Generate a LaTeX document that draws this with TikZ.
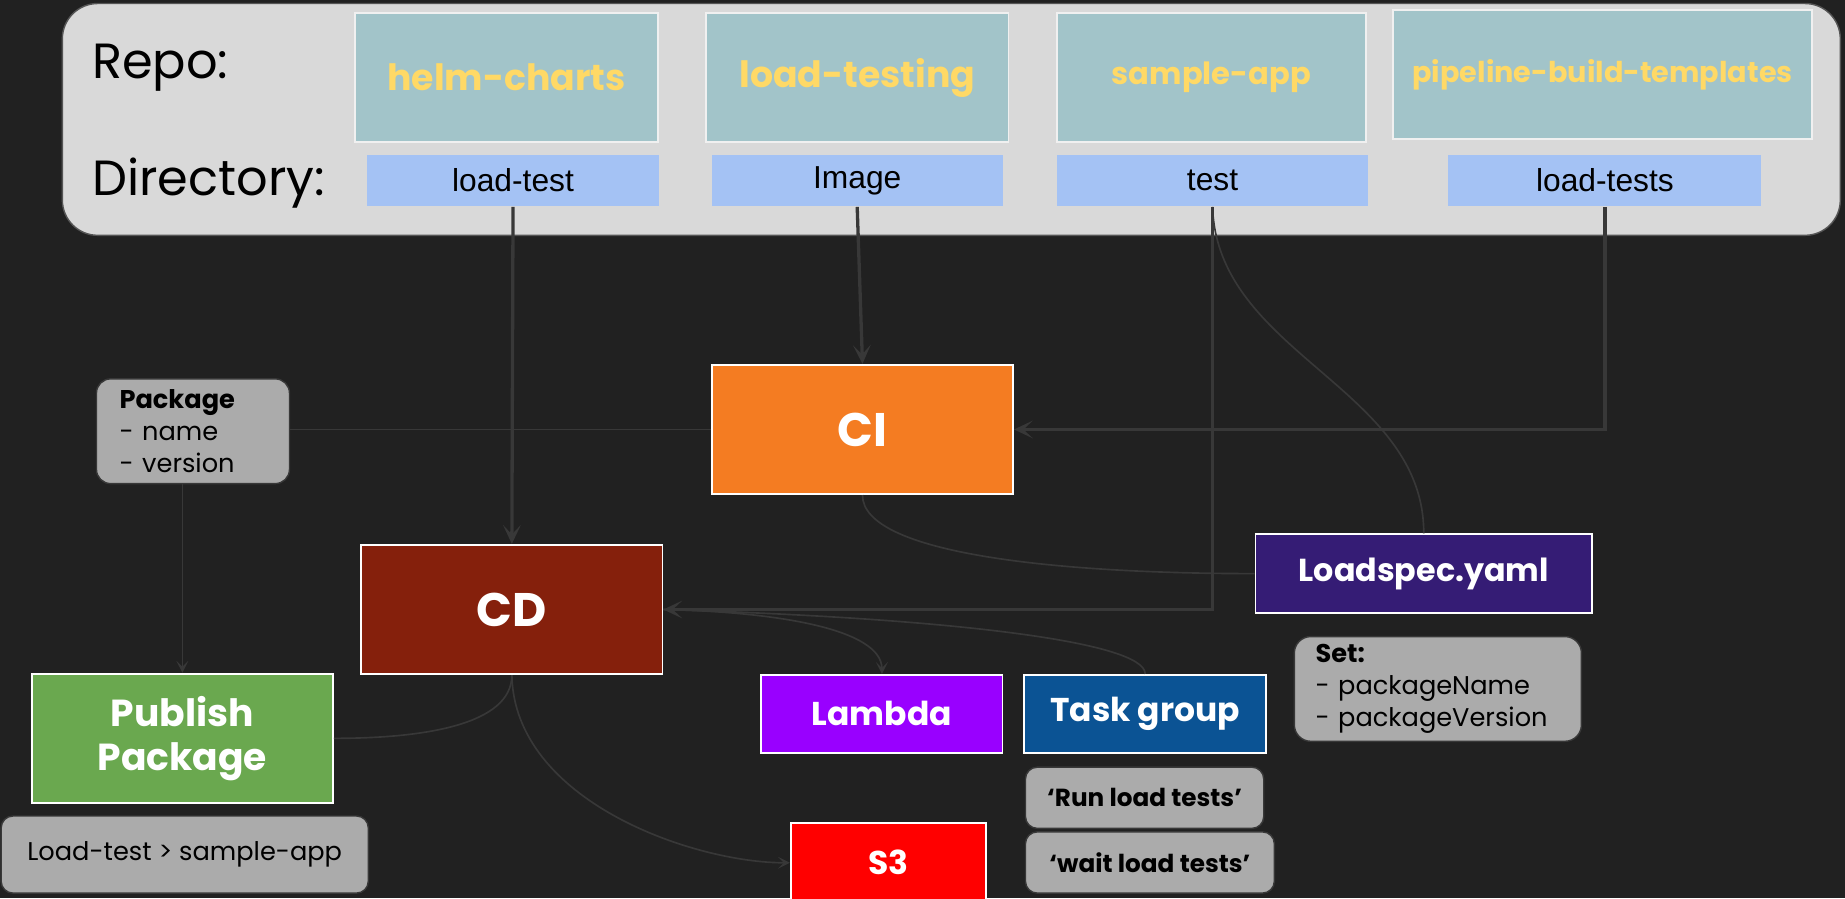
\documentclass[tikz,border=0pt]{standalone}
\usepackage{fontspec}
\setmainfont{Poppins}
\newfontfamily\arialf{Liberation Sans}
\usetikzlibrary{arrows.meta}
\definecolor{bgc}{HTML}{212121}
\definecolor{linec}{HTML}{383838}
\definecolor{panelc}{HTML}{D9D9D9}
\definecolor{panelb}{HTML}{555555}
\definecolor{repoc}{HTML}{A2C4C9}
\definecolor{dirc}{HTML}{A4C2F4}
\definecolor{yellowc}{HTML}{FFD966}
\definecolor{cic}{HTML}{F47C22}
\definecolor{cdc}{HTML}{85200C}
\definecolor{pubc}{HTML}{6AA84F}
\definecolor{specc}{HTML}{351C75}
\definecolor{lambdac}{HTML}{9900FF}
\definecolor{taskc}{HTML}{0B5394}
\definecolor{s3c}{HTML}{FF0000}
\definecolor{notec}{HTML}{ABABAB}
\definecolor{noteb}{HTML}{383838}
\begin{document}
\begin{tikzpicture}[x=0.5pt,y=-0.5pt,
  panelbox/.style={fill=panelc,draw=panelb,line width=0.6pt,rounded corners=15pt,inner sep=0pt},
  lbl/.style={anchor=base west,inner sep=0pt,text=black,font=\fontsize{21}{24}\selectfont},
  repobox/.style={fill=repoc,draw=white!94!black,line width=0.75pt,inner sep=0pt,text=yellowc,font=\bfseries\fontsize{15.4}{18}\selectfont},
  dirbox/.style={fill=dirc,inner sep=0pt,text=black,font=\arialf\fontsize{13.5}{16}\selectfont},
  solid box/.style={draw=white,line width=0.75pt,inner sep=0pt,text=white,font=\bfseries\fontsize{14}{17}\selectfont},
  notebox/.style={fill=notec,draw=noteb,line width=0.6pt,inner sep=0pt,text=black,font=\fontsize{10.9}{13.75}\selectfont},
  conn/.style={draw=linec,line width=1.4pt},
  thin conn/.style={draw=linec,line width=0.7pt},
  bigtip/.style={-{Stealth[length=8pt,width=7.5pt,inset=4pt]}},
  smalltip/.style={-{Stealth[length=5pt,width=5pt,inset=2.5pt]}}
]
\useasboundingbox (0,0) rectangle (1568,763.2);
\fill[bgc] (0,0) rectangle (1568,763.2);

% top panel
\node[panelbox,minimum width=755.5pt,minimum height=98.5pt] (panel) at (808.5,101.5) {};
\node[lbl] (repolbl) at (78,67) {Repo:};
\node[lbl] (dirlbl) at (78,166) {Directory:};

\node[repobox,minimum width=128.5pt,minimum height=55pt] (helm) at (430.5,66) {helm-charts};
\node[repobox,minimum width=128.5pt,minimum height=55pt] (loadtesting) at (728.5,66) {load-testing};
\node[repobox,minimum width=131.5pt,minimum height=55pt,font=\bfseries\fontsize{13}{16}\selectfont] (sampleapp) at (1029.5,66) {sample-app};
\node[repobox,minimum width=178pt,minimum height=54.75pt,font=\bfseries\fontsize{12.2}{15}\selectfont] (pipeline) at (1362,63.25) {pipeline-build-templates};

\node[dirbox,minimum width=124pt,minimum height=22pt] (ldir) at (436,153.5) {\raisebox{-1pt}{load-test}};
\node[dirbox,minimum width=123.5pt,minimum height=22pt] (imgdir) at (728.5,153.5) {\raisebox{-1pt}{Image}};
\node[dirbox,minimum width=132.5pt,minimum height=22pt] (tdir) at (1030.5,153.5) {\raisebox{-1pt}{test}};
\node[dirbox,minimum width=133pt,minimum height=22pt] (ltsdir) at (1364,153.5) {\raisebox{-1pt}{load-tests}};

% main boxes
\node[solid box,fill=cic,minimum width=128pt,minimum height=55pt,font=\bfseries\fontsize{20}{24}\selectfont] (ci) at (733,365) {CI};
\node[solid box,fill=cdc,minimum width=128pt,minimum height=55pt,font=\bfseries\fontsize{20}{24}\selectfont] (cd) at (435,518) {CD};
\node[solid box,fill=pubc,minimum width=128pt,minimum height=55pt,align=center,font=\bfseries\fontsize{16}{18.5}\selectfont] (pub) at (155,627.5) {Publish\\Package};
\node[solid box,fill=specc,minimum width=143pt,minimum height=33.5pt,font=\bfseries\fontsize{13.5}{16}\selectfont] (spec) at (1210,487.5) {Loadspec.yaml};
\node[solid box,fill=lambdac,minimum width=102.5pt,minimum height=33.25pt] (lambda) at (749.5,606.75) {Lambda};
\node[solid box,fill=taskc,minimum width=102.75pt,minimum height=33.25pt] (task) at (973.25,606.75) {Task group};
\node[solid box,fill=s3c,minimum width=83pt,minimum height=33.75pt] (s3) at (755,733.25) {S3};

% notes
\node[notebox,rounded corners=6pt,text width=62.4pt,inner xsep=9.8pt,minimum height=44.5pt,align=left] (pkg) at (164,366.5) {\textbf{Package}\\- name\\- version};
\node[notebox,rounded corners=7pt,text width=104pt,inner xsep=9pt,minimum height=44.5pt,align=left] (set) at (1222,585.5) {\textbf{Set:}\\- packageName\\- packageVersion};
\node[notebox,rounded corners=5pt,minimum width=156pt,minimum height=32.75pt] (lts) at (157,726.25) {Load-test {>} sample-app};
\node[notebox,rounded corners=5pt,minimum width=101.25pt,minimum height=26pt,font=\bfseries\fontsize{10.5}{12.5}\selectfont] (run) at (972.75,678) {‘Run load tests’};
\node[notebox,rounded corners=5pt,minimum width=105.75pt,minimum height=26pt,font=\bfseries\fontsize{10.5}{12.5}\selectfont] (wait) at (977.25,733) {‘wait load tests’};

% connectors
\draw[conn,bigtip] (ldir.south) -- (cd.north);
\draw[conn,bigtip] (imgdir.south) -- (ci.north);
\draw[conn,bigtip] (tdir.south) |- (cd.east);
\draw[conn,bigtip] (ltsdir.south) |- (ci.east);
\draw[thin conn] (ci.west) -- (ci.west -| pkg.east);
\draw[thin conn,smalltip] (pkg.south -| pub.north) -- (pub.north);
\draw[thin conn] (tdir.south) .. controls +(4,125) and +(0,-124) .. (spec.north);
\draw[thin conn] (ci.south) .. controls +(0,50) and +(-167,0) .. (spec.west);
\draw[thin conn,smalltip] (cd.east) .. controls +(97,2) and +(0,-38) .. (lambda.north);
\draw[thin conn] (task.north) .. controls +(0,-28) and +(237,7) .. (cd.east);
\draw[thin conn] (cd.south) .. controls +(0,42) and +(77,0) .. (pub.east);
\draw[thin conn,smalltip] (cd.south) .. controls +(2,107) and +(-82,0) .. (s3.west);
\end{tikzpicture}
\end{document}
